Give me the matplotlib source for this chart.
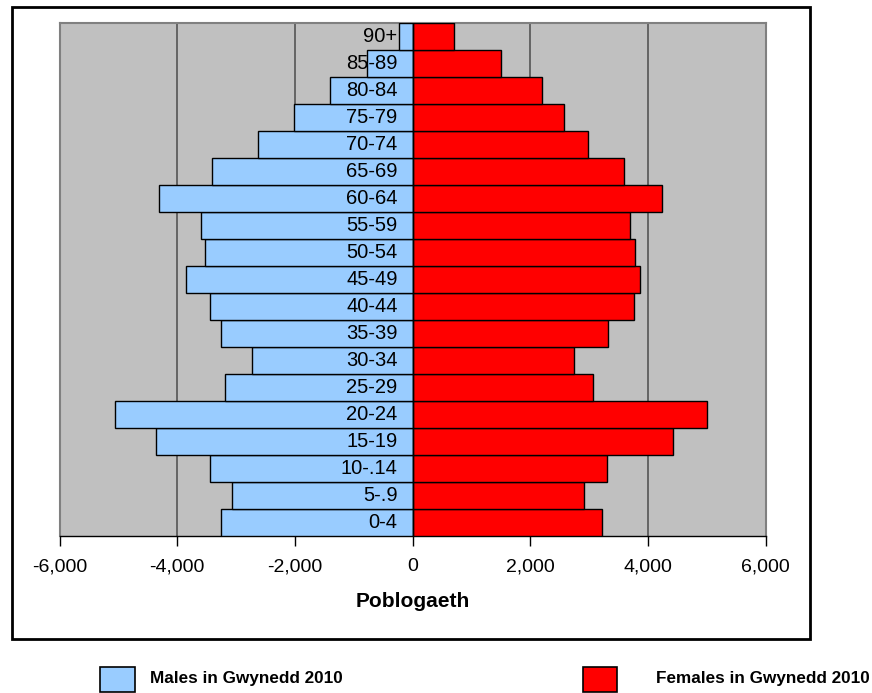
import matplotlib
matplotlib.use("Agg")
import matplotlib.pyplot as plt
from matplotlib.patches import Rectangle
from matplotlib.ticker import FuncFormatter
import matplotlib.transforms as mtransforms

plt.rcParams['font.family'] = ['Liberation Sans', 'DejaVu Sans']

age_groups = ["0-4", "5-.9", "10-.14", "15-19", "20-24", "25-29", "30-34", "35-39",
              "40-44", "45-49", "50-54", "55-59", "60-64", "65-69", "70-74",
              "75-79", "80-84", "85-89", "90+"]
males = [3260, 3070, 3450, 4360, 5060, 3180, 2720, 3260, 3450, 3850,
         3530, 3600, 4310, 3400, 2620, 2020, 1410, 770, 230]
females = [3220, 2920, 3300, 4430, 5010, 3060, 2740, 3330, 3760, 3860,
           3780, 3700, 4240, 3600, 2980, 2580, 2200, 1500, 700]
x_ticks = [-6000, -4000, -2000, 0, 2000, 4000, 6000]
male_label = "Males in Gwynedd 2010"
female_label = "Females in Gwynedd 2010"
x_title = "Poblogaeth"

W, H = 872, 693
fig = plt.figure(figsize=(W / 100, H / 100), dpi=100)


def fx(px):
    return px / W


def fy(py):
    return 1 - py / H


ax = fig.add_axes([fx(59.5), fy(536), fx(765.5) - fx(59.5), fy(22.5) - fy(536)])
ax.set_facecolor('#C0C0C0')

pos = list(range(len(age_groups)))
ax.barh(pos, [-m for m in males], height=1.0, color='#99CCFF',
        edgecolor='black', linewidth=1.0, zorder=3)
ax.barh(pos, females, height=1.0, color='#FF0000',
        edgecolor='black', linewidth=1.0, zorder=3)

ax.set_xlim(-6000, 6000)
ax.set_ylim(-0.5, len(age_groups) - 0.5)
ax.set_xticks(x_ticks)
ax.xaxis.set_major_formatter(FuncFormatter(lambda v, p: f"{int(v):,}"))
ax.tick_params(axis='x', direction='out', length=7, width=1, color='black',
               labelsize=14, pad=9)
ax.set_yticks([])

for g in x_ticks[1:-1]:
    if g != 0:
        ax.axvline(g, color='#555555', linewidth=1.2, zorder=1)
ax.axvline(0, color='black', linewidth=1.0, zorder=4)

label_tr = mtransforms.offset_copy(ax.transData, fig=fig, x=-15, y=0, units='dots')
for i, lab in enumerate(age_groups):
    ax.text(0, i, lab, ha='right', va='center', fontsize=14.5,
            transform=label_tr, zorder=5)

for side in ('left', 'top', 'right'):
    ax.spines[side].set_color('#808080')
    ax.spines[side].set_linewidth(1.5)
ax.spines['bottom'].set_color('black')
ax.spines['bottom'].set_linewidth(1.0)

ax.set_xlabel(x_title, fontsize=15, fontweight='bold', labelpad=12)

# outer frame around the chart
fig.patches.append(Rectangle((fx(12), fy(639)), fx(810) - fx(12), fy(7) - fy(639),
                             transform=fig.transFigure, fill=False,
                             edgecolor='black', linewidth=2.0))

# legend entries below the frame
fig.patches.append(Rectangle((fx(100), fy(691.5)), fx(35), 25 / H,
                             transform=fig.transFigure, facecolor='#99CCFF',
                             edgecolor='black', linewidth=1.2))
fig.text(fx(150), fy(679), male_label, fontsize=12.3, fontweight='bold',
         ha='left', va='center')
fig.patches.append(Rectangle((fx(583), fy(691.5)), fx(34), 25 / H,
                             transform=fig.transFigure, facecolor='#FF0000',
                             edgecolor='black', linewidth=1.2))
fig.text(fx(656), fy(679), female_label, fontsize=12.3, fontweight='bold',
         ha='left', va='center')

fig.savefig("out.png", dpi=100)
